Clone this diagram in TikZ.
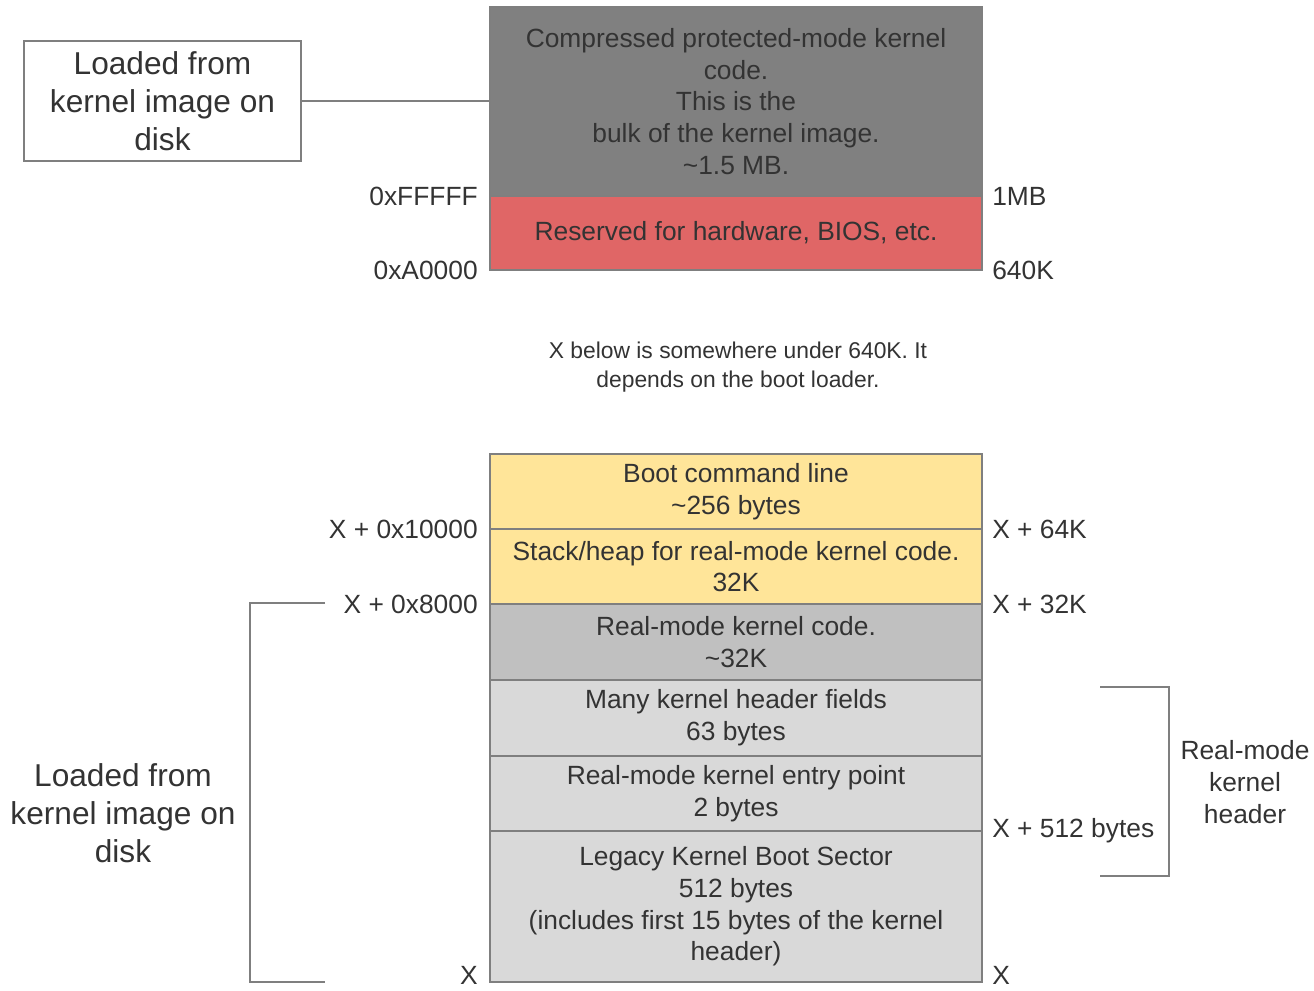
\documentclass[tikz,border=0pt]{standalone}
\usepackage{fontspec}
\setmainfont{Liberation Sans}
\usetikzlibrary{positioning}
\definecolor{tline}{HTML}{7F7F7F}
\definecolor{tdark}{HTML}{333333}
\definecolor{mgray}{HTML}{808080}
\definecolor{mred}{HTML}{E06666}
\definecolor{myellow}{HTML}{FFE599}
\definecolor{mmid}{HTML}{C0C0C0}
\definecolor{mlight}{HTML}{D9D9D9}

\begin{document}
\begin{tikzpicture}[x=0.02cm, y=-0.02cm, font=\fontsize{15}{18}\selectfont, text=tdark,
  blk/.style={draw=tline, line width=1pt, inner sep=0pt, outer sep=0pt, minimum width=9.84cm, align=center},
  addr/.style={inner sep=0pt},
  big/.style={font=\fontsize{18}{21.5}\selectfont, align=center},
  note/.style={font=\fontsize{13}{16.4}\selectfont, align=center},
  wire/.style={draw=tline, line width=1pt}]
\useasboundingbox (0,0) rectangle (1314,990);
% upper memory
\node[blk, fill=mgray, minimum height=3.78cm, anchor=north] (comp) at (736,7)
  {Compressed protected-mode kernel\\code.\\This is the\\bulk of the kernel image.\\\textasciitilde1.5 MB.};
\node[blk, fill=mred, minimum height=1.48cm, below=0pt of comp] (bios) {Reserved for hardware, BIOS, etc.};
\node[addr, left=2.4mm of comp.south west] (affff) {0xFFFFF};
\node[addr, right=2mm of comp.south east] (a1mb) {1MB};
\node[addr, left=2.4mm of bios.south west] (aa000) {0xA0000};
\node[addr, right=2mm of bios.south east] (a640) {640K};
\node[big, draw=tline, line width=1pt, minimum width=5.54cm, minimum height=2.4cm, inner sep=0pt] (ldtop) at (162.5,101) {Loaded from\\kernel image on\\disk};
\draw[wire] (ldtop.east) -- (ldtop.east -| comp.west);
\node[note] (xnote) at (738,367) {X below is somewhere under 640K. It\\depends on the boot loader.};
% lower memory
\node[blk, fill=myellow, minimum height=1.5cm, anchor=north] (boot) at (736,454) {Boot command line\\\textasciitilde256 bytes};
\node[blk, fill=myellow, minimum height=1.5cm, below=0pt of boot] (stack) {Stack/heap for real-mode kernel code.\\32K};
\node[blk, fill=mmid, minimum height=1.52cm, below=0pt of stack] (rmcode) {Real-mode kernel code.\\\textasciitilde32K};
\node[blk, fill=mlight, minimum height=1.52cm, below=0pt of rmcode] (hdr) {Many kernel header fields\\63 bytes};
\node[blk, fill=mlight, minimum height=1.5cm, below=0pt of hdr] (entry) {Real-mode kernel entry point\\2 bytes};
\node[blk, fill=mlight, minimum height=3.02cm, below=0pt of entry] (legacy) {Legacy Kernel Boot Sector\\512 bytes\\(includes first 15 bytes of the kernel\\header)};
\node[addr, left=2.4mm of boot.south west] (a10000) {X + 0x10000};
\node[addr, right=2mm of boot.south east] (a64k) {X + 64K};
\node[addr, left=2.4mm of stack.south west] (a8000) {X + 0x8000};
\node[addr, right=2mm of stack.south east] (a32k) {X + 32K};
\node[addr, right=2mm of entry.south east] (a512) {X + 512 bytes};
\node[addr, left=2.4mm of legacy.south west, yshift=1.2mm] (axl) {X};
\node[addr, right=2mm of legacy.south east, yshift=1.2mm] (axr) {X};
% brackets
\coordinate (lbt) at (325,603);
\coordinate (lbb) at (325,982);
\draw[wire] (lbt) -- ++(-75,0) |- (lbb);
\node[big] (ldbot) at (123,813) {Loaded from\\kernel image on\\disk};
\coordinate (rbt) at (1100,687);
\coordinate (rbb) at (1100,876);
\draw[wire] (rbt) -- ++(69,0) |- (rbb);
\node[align=center] (rmhdr) at (1245,782) {Real-mode\\kernel\\header};
\end{tikzpicture}
\end{document}
